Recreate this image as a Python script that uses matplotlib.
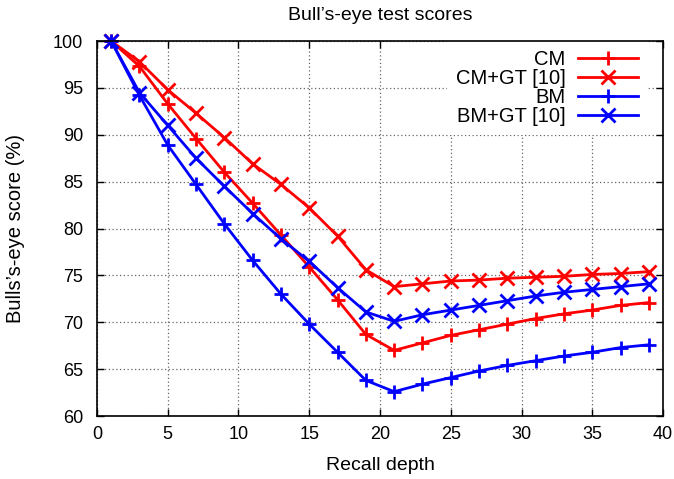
import matplotlib
matplotlib.use('Agg')
import matplotlib.pyplot as plt

plt.rcParams['font.family'] = ['Liberation Sans', 'DejaVu Sans']

depth = [1, 3, 5, 7, 9, 11, 13, 15, 17, 19, 21, 23, 25, 27, 29, 31, 33, 35, 37, 39]
cm_scores = [100, 97.3, 93.3, 89.6, 86.0, 82.7, 79.3, 75.9, 72.4, 68.7,
             67.0, 67.8, 68.6, 69.2, 69.8, 70.4, 70.9, 71.3, 71.8, 72.1]
cm_gt_scores = [100, 97.8, 94.8, 92.3, 89.7, 86.9, 84.7, 82.2, 79.2, 75.6,
                73.8, 74.1, 74.4, 74.5, 74.7, 74.8, 74.9, 75.1, 75.2, 75.4]
bm_scores = [100, 94.2, 88.9, 84.7, 80.5, 76.6, 73.0, 69.8, 66.8, 63.8,
             62.6, 63.4, 64.1, 64.8, 65.4, 65.9, 66.4, 66.8, 67.3, 67.6]
bm_gt_scores = [100, 94.5, 91.0, 87.5, 84.5, 81.6, 78.9, 76.5, 73.7, 71.1,
                70.1, 70.8, 71.3, 71.8, 72.3, 72.8, 73.2, 73.5, 73.8, 74.1]
labels = ['CM', 'CM+GT [10]', 'BM', 'BM+GT [10]']
xticks = list(range(0, 41, 5))
yticks = list(range(60, 101, 5))

fig = plt.figure(figsize=(6.74, 4.79), dpi=100)
ax = fig.add_axes([0.1439, 0.1315, 0.8398, 0.7829])

series = [(cm_scores, 'red', '+'), (cm_gt_scores, 'red', 'x'),
          (bm_scores, 'blue', '+'), (bm_gt_scores, 'blue', 'x')]
for (vals, col, mk), lab in zip(series, labels):
    ax.plot(depth, vals, color=col, marker=mk, markersize=10, markeredgewidth=2,
            linewidth=2, label=lab, clip_on=False, zorder=3)

ax.set_xlim(0, 40)
ax.set_ylim(60, 100)
ax.set_xticks(xticks)
ax.set_yticks(yticks)
ax.tick_params(direction='in', length=5, width=1, top=True, right=True, labelsize=13)
ax.tick_params(axis='x', pad=7)
ax.tick_params(axis='y', pad=10)
ax.grid(True, linestyle=(0, (1, 2)), color='#666666', linewidth=0.9)
for s in ax.spines.values():
    s.set_linewidth(1.2)
    s.set_zorder(4)

ax.set_xlabel('Recall depth', fontsize=14)
ax.set_ylabel('Bulls\u2019s-eye score (%)', fontsize=14.5)
ax.xaxis.set_label_coords(0.5, -0.109)
ax.yaxis.set_label_coords(-0.127, 0.5)
ax.set_title('Bull\u2019s-eye test scores', fontsize=14, pad=15)

leg = ax.legend(loc='upper right', bbox_to_anchor=(0.9717, 1.0), markerfirst=False,
                frameon=True, fancybox=False, fontsize=14.5, handlelength=3.0,
                handletextpad=0.6, labelspacing=0.0, borderpad=0.45,
                borderaxespad=0.0)
leg.get_frame().set_facecolor('white')
leg.get_frame().set_edgecolor('none')
leg.get_frame().set_alpha(1.0)
leg.set_zorder(2.5)

fig.savefig('out.png', dpi=100)
